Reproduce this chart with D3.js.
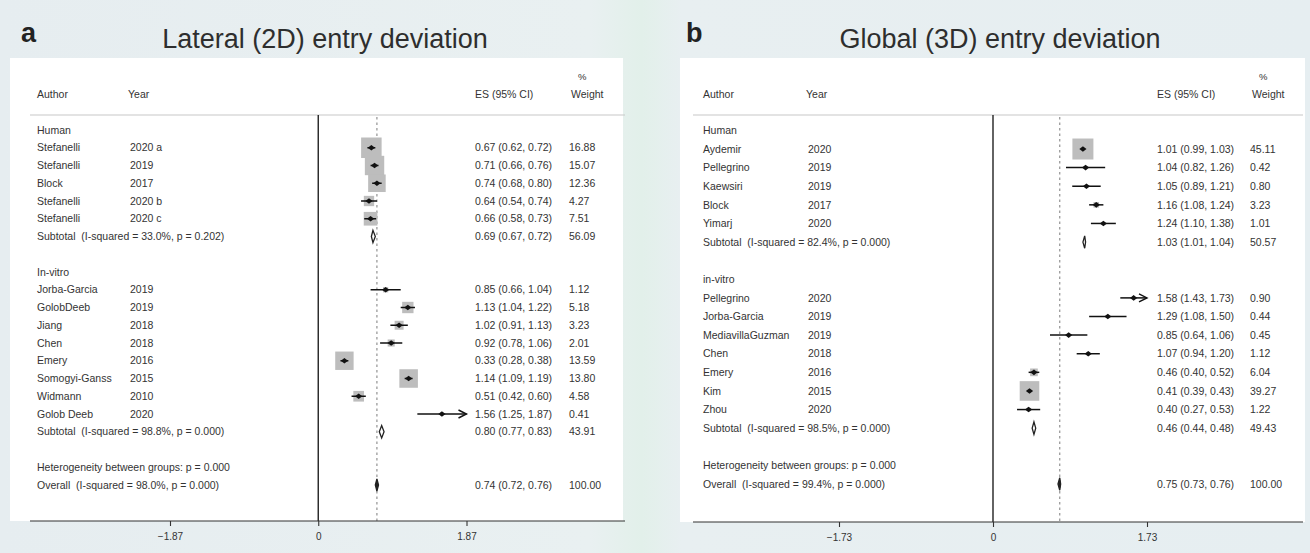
<!DOCTYPE html>
<html><head><meta charset="utf-8">
<script src="https://cdn.jsdelivr.net/npm/d3@7"></script>
<style>
body{margin:0;background:#e9eff2;overflow:hidden;}
svg text{font-family:"Liberation Sans",Arial,Helvetica,sans-serif;white-space:pre;}
</style></head><body>
<svg id="c" width="1310" height="553"></svg>
<script>
// ---------- Panel a data ----------
const letterA = "a";
const titleA = "Lateral (2D) entry deviation";
const groupsA = ["Human", "In-vitro"];
const groupSizesA = [5, 8];
const authorsA = ["Stefanelli","Stefanelli","Block","Stefanelli","Stefanelli","Jorba-Garcia","GolobDeeb","Jiang","Chen","Emery","Somogyi-Ganss","Widmann","Golob Deeb"];
const yearsA = ["2020 a","2019","2017","2020 b","2020 c","2019","2019","2018","2018","2016","2015","2010","2020"];
const esA = [0.67,0.71,0.74,0.64,0.66,0.85,1.13,1.02,0.92,0.33,1.14,0.51,1.56];
const lowA = [0.62,0.66,0.68,0.54,0.58,0.66,1.04,0.91,0.78,0.28,1.09,0.42,1.25];
const highA = [0.72,0.76,0.80,0.74,0.73,1.04,1.22,1.13,1.06,0.38,1.19,0.60,1.87];
const weightA = [16.88,15.07,12.36,4.27,7.51,1.12,5.18,3.23,2.01,13.59,13.80,4.58,0.41];
const subHetA = ["I-squared = 33.0%, p = 0.202","I-squared = 98.8%, p = 0.000"];
const subEsA = [0.69,0.80];
const subLowA = [0.67,0.77];
const subHighA = [0.72,0.83];
const subWeightA = [56.09,43.91];
const betweenA = "p = 0.000";
const overallHetA = "I-squared = 98.0%, p = 0.000";
const overallEsA = 0.74, overallLowA = 0.72, overallHighA = 0.76, overallWeightA = 100.00;
const ticksA = [-1.87, 0, 1.87];

// ---------- Panel b data ----------
const letterB = "b";
const titleB = "Global (3D) entry deviation";
const groupsB = ["Human", "in-vitro"];
const groupSizesB = [5, 7];
const authorsB = ["Aydemir","Pellegrino","Kaewsiri","Block","Yimarj","Pellegrino","Jorba-Garcia","MediavillaGuzman","Chen","Emery","Kim","Zhou"];
const yearsB = ["2020","2019","2019","2017","2020","2020","2019","2019","2018","2016","2015","2020"];
const esB = [1.01,1.04,1.05,1.16,1.24,1.58,1.29,0.85,1.07,0.46,0.41,0.40];
const lowB = [0.99,0.82,0.89,1.08,1.10,1.43,1.08,0.64,0.94,0.40,0.39,0.27];
const highB = [1.03,1.26,1.21,1.24,1.38,1.73,1.50,1.06,1.20,0.52,0.43,0.53];
const weightB = [45.11,0.42,0.80,3.23,1.01,0.90,0.44,0.45,1.12,6.04,39.27,1.22];
const subHetB = ["I-squared = 82.4%, p = 0.000","I-squared = 98.5%, p = 0.000"];
const subEsB = [1.03,0.46];
const subLowB = [1.01,0.44];
const subHighB = [1.04,0.48];
const subWeightB = [50.57,49.43];
const betweenB = "p = 0.000";
const overallHetB = "I-squared = 99.4%, p = 0.000";
const overallEsB = 0.75, overallLowB = 0.73, overallHighB = 0.76, overallWeightB = 100.00;
const ticksB = [-1.73, 0, 1.73];

const svg = d3.select("#c");
const f2 = d3.format(".2f");
const TXT = "#333";
const defs = svg.append("defs");
const bg = defs.append("linearGradient").attr("id","bg").attr("x1","0").attr("x2","1").attr("y1","0").attr("y2","0");
[[0,"#e6edf0"],[0.45,"#e9f0f1"],[0.49,"#e2f0ea"],[0.52,"#e8eff1"],[1,"#e6eef1"]].forEach(s=>bg.append("stop").attr("offset",s[0]).attr("stop-color",s[1]));
svg.append("rect").attr("width",1310).attr("height",553).attr("fill","url(#bg)");

function panel(cfg, d) {
  const g = svg.append("g");
  // rows
  const rows = [];
  let k = 0, idx = 0;
  d.groups.forEach((gn, gi) => {
    rows.push({type:"head", label:gn, r:k++});
    for (let j = 0; j < d.sizes[gi]; j++, idx++) {
      rows.push({type:"study", author:d.authors[idx], year:d.years[idx], es:d.es[idx], lo:d.low[idx], hi:d.high[idx], w:d.weight[idx], r:k++});
    }
    rows.push({type:"sub", label:"Subtotal  (" + d.subHet[gi] + ")", es:d.subEs[gi], lo:d.subLow[gi], hi:d.subHigh[gi], w:d.subWeight[gi], r:k++});
    k++; // blank
  });
  rows.push({type:"between", label:"Heterogeneity between groups: " + d.between, r:k++});
  rows.push({type:"overall", label:"Overall  (" + d.overallHet + ")", es:d.overallEs, lo:d.overallLow, hi:d.overallHigh, w:d.overallWeight, r:k++});

  const y = d3.scalePoint().domain(d3.range(k)).range([cfg.rowTop, cfg.rowBottom]);
  const x = d3.scaleLinear().domain([d.ticks[0], d.ticks[d.ticks.length-1]]).range([cfg.x0, cfg.x1]);
  const maxW = d3.max(d.weight);
  const box = d3.scaleSqrt().domain([0, maxW]).range([0, cfg.boxMax]);

  // white panel
  g.append("rect").attr("x", cfg.boxL).attr("y", cfg.boxT).attr("width", cfg.boxR - cfg.boxL).attr("height", cfg.axisY - cfg.boxT).attr("fill", "#fff");

  // letter and title
  g.append("text").attr("x", cfg.letterX).attr("y", 42).attr("font-size", 27).attr("font-weight", "bold").attr("fill", "#222").text(d.letter);
  g.append("text").attr("x", cfg.titleX).attr("y", 48).attr("font-size", 27).attr("text-anchor", "middle").attr("fill", "#2e2e2e").text(d.title);

  // header
  const fs = 10.5;
  g.append("text").attr("x", cfg.textX).attr("y", 98).attr("font-size", fs).attr("fill", TXT).text("Author");
  g.append("text").attr("x", cfg.yearX - 2).attr("y", 98).attr("font-size", fs).attr("fill", TXT).text("Year");
  g.append("text").attr("x", cfg.esX).attr("y", 98).attr("font-size", fs).attr("fill", TXT).text("ES (95% CI)");
  g.append("text").attr("x", cfg.wX + 2).attr("y", 98).attr("font-size", fs).attr("fill", TXT).text("Weight");
  g.append("text").attr("x", cfg.wX + 9).attr("y", 80).attr("font-size", fs - 1).attr("fill", TXT).text("%");
  g.append("line").attr("x1", cfg.lineL).attr("x2", cfg.lineR).attr("y1", cfg.headY).attr("y2", cfg.headY).attr("stroke", "#c8c8c8").attr("stroke-width", 1.2);

  // reference lines
  g.append("line").attr("x1", x(0)).attr("x2", x(0)).attr("y1", cfg.headY).attr("y2", cfg.axisY).attr("stroke", "#222").attr("stroke-width", 1.4);
  g.append("line").attr("x1", x(d.overallEs)).attr("x2", x(d.overallEs)).attr("y1", cfg.headY + 2).attr("y2", cfg.axisY).attr("stroke", "#888").attr("stroke-width", 1.1).attr("stroke-dasharray", "2.5,3");

  // axis
  g.append("line").attr("x1", cfg.lineL).attr("x2", cfg.lineR).attr("y1", cfg.axisY).attr("y2", cfg.axisY).attr("stroke", "#333").attr("stroke-width", 1.2);
  const ax = g.append("g").attr("transform", `translate(0,${cfg.axisY})`)
    .call(d3.axisBottom(x).tickValues(d.ticks).tickSize(5).tickSizeOuter(0).tickFormat(v => v === 0 ? "0" : f2(v)));
  ax.select(".domain").remove();
  ax.selectAll(".tick line").attr("stroke", "#333").attr("stroke-width", 1.1);
  ax.selectAll(".tick text").attr("font-size", 10).attr("fill", TXT).attr("dy", "1.05em").style("font-family", "Liberation Sans, Arial, sans-serif");

  // texts
  rows.forEach(r => {
    const yy = y(r.r) + 3.7;
    if (r.type === "study") {
      g.append("text").attr("x", cfg.textX).attr("y", yy).attr("font-size", fs).attr("fill", TXT).text(r.author);
      g.append("text").attr("x", cfg.yearX).attr("y", yy).attr("font-size", fs).attr("fill", TXT).text(r.year);
    } else {
      g.append("text").attr("x", cfg.textX).attr("y", yy).attr("font-size", fs).attr("fill", TXT).text(r.label);
    }
    if (r.es !== undefined) {
      g.append("text").attr("x", cfg.esX).attr("y", yy).attr("font-size", fs).attr("fill", TXT).text(`${f2(r.es)} (${f2(r.lo)}, ${f2(r.hi)})`);
      g.append("text").attr("x", cfg.wX).attr("y", yy).attr("font-size", fs).attr("fill", TXT).text(f2(r.w));
    }
  });

  // study markers
  const studies = rows.filter(r => r.type === "study");
  studies.forEach(r => {
    const cy = y(r.r), cx = x(r.es), s = box(r.w);
    g.append("rect").attr("x", cx - s/2).attr("y", cy - s/2).attr("width", s).attr("height", s).attr("fill", "#bdbdbd");
    const xmax = d.ticks[d.ticks.length-1];
    const clipped = r.hi >= xmax;
    g.append("line").attr("x1", x(r.lo)).attr("x2", x(Math.min(r.hi, xmax))).attr("y1", cy).attr("y2", cy).attr("stroke", "#111").attr("stroke-width", 1.5);
    if (clipped) {
      const tx = x(xmax);
      g.append("path").attr("d", `M${tx-8},${cy-4}L${tx},${cy}L${tx-8},${cy+4}`).attr("fill", "none").attr("stroke", "#111").attr("stroke-width", 1.4);
    }
    g.append("path").attr("d", `M${cx-3.6},${cy}L${cx},${cy-2.8}L${cx+3.6},${cy}L${cx},${cy+2.8}Z`).attr("fill", "#111");
  });

  // diamonds
  rows.filter(r => r.type === "sub" || r.type === "overall").forEach(r => {
    const cy = y(r.r), h = 6.2;
    g.append("path").attr("d", `M${x(r.lo)},${cy}L${x(r.es)},${cy-h}L${x(r.hi)},${cy}L${x(r.es)},${cy+h}Z`)
      .attr("fill", r.type === "overall" ? "#222" : "#fff").attr("stroke", "#222").attr("stroke-width", 1.3);
  });
}

panel({rowTop:130, rowBottom:485, x0:170, x1:466.5, boxMax:20.5, boxL:10, boxR:623, boxT:58, axisY:521,
       letterX:21, titleX:325, textX:37, yearX:130, esX:475, wX:569, lineL:30, lineR:625, headY:115},
  {letter:letterA, title:titleA, groups:groupsA, sizes:groupSizesA, authors:authorsA, years:yearsA, es:esA, low:lowA, high:highA, weight:weightA,
   subHet:subHetA, subEs:subEsA, subLow:subLowA, subHigh:subHighA, subWeight:subWeightA, between:betweenA, overallHet:overallHetA,
   overallEs:overallEsA, overallLow:overallLowA, overallHigh:overallHighA, overallWeight:overallWeightA, ticks:ticksA});

panel({rowTop:130.4, rowBottom:484, x0:839, x1:1147, boxMax:21, boxL:680, boxR:1305, boxT:58, axisY:522,
       letterX:686, titleX:1000, textX:703, yearX:808, esX:1157, wX:1250, lineL:693, lineR:1303, headY:115},
  {letter:letterB, title:titleB, groups:groupsB, sizes:groupSizesB, authors:authorsB, years:yearsB, es:esB, low:lowB, high:highB, weight:weightB,
   subHet:subHetB, subEs:subEsB, subLow:subLowB, subHigh:subHighB, subWeight:subWeightB, between:betweenB, overallHet:overallHetB,
   overallEs:overallEsB, overallLow:overallLowB, overallHigh:overallHighB, overallWeight:overallWeightB, ticks:ticksB});
</script>
</body></html>
